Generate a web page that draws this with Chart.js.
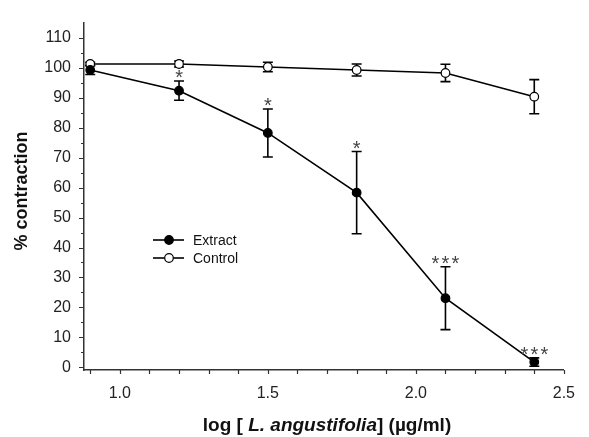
<!DOCTYPE html>
<html>
<head>
<meta charset="utf-8">
<script src="https://cdn.jsdelivr.net/npm/chart.js@4"></script>
<style>
  html, body { margin: 0; padding: 0; background: #fff; }
  #wrap { width: 589px; height: 437px; position: relative; }
</style>
</head>
<body>
<div id="wrap"><canvas id="chart"></canvas></div>
<script>
// data
const logDose = [0.9, 1.2, 1.5, 1.8, 2.1, 2.4];
const extractMean = [99.2, 92.3, 78.2, 58.3, 23.1, 1.8];
const extractErr = [1.5, 3.2, 8.0, 13.7, 10.5, 1.4];
const controlMean = [101.2, 101.2, 100.2, 99.2, 98.2, 90.3];
const controlErr = [0.6, 1.0, 1.6, 2.0, 2.9, 5.7];
const signif = ["", "*", "*", "*", "***", "***"];
const xTickLabels = [1.0, 1.5, 2.0, 2.5];
const yTickLabels = [0, 10, 20, 30, 40, 50, 60, 70, 80, 90, 100, 110];
const seriesNames = ["Extract", "Control"];

const AXIS = "#333";
const FONT = "Arial, 'Liberation Sans', sans-serif";

function toPoints(xs, ys) {
  return xs.map((x, i) => ({ x: x, y: ys[i] }));
}

// error bars, tick marks, stars, legend and titles
const decor = {
  id: "decor",
  beforeDatasetsDraw(chart) {
    const ctx = chart.ctx;
    const xs = chart.scales.x;
    const ys = chart.scales.y;
    const sets = [
      [extractMean, extractErr],
      [controlMean, controlErr],
    ];
    ctx.save();
    ctx.strokeStyle = "#000";
    ctx.lineWidth = 1.6;
    sets.forEach(([mean, err]) => {
      logDose.forEach((d, i) => {
        const px = xs.getPixelForValue(d);
        const top = ys.getPixelForValue(mean[i] + err[i]);
        const bot = ys.getPixelForValue(mean[i] - err[i]);
        ctx.beginPath();
        ctx.moveTo(px, top);
        ctx.lineTo(px, bot);
        ctx.moveTo(px - 5, top);
        ctx.lineTo(px + 5, top);
        ctx.moveTo(px - 5, bot);
        ctx.lineTo(px + 5, bot);
        ctx.stroke();
      });
    });
    ctx.restore();
  },
  afterDraw(chart) {
    const ctx = chart.ctx;
    const xs = chart.scales.x;
    const ys = chart.scales.y;
    const area = chart.chartArea;
    ctx.save();

    // tick marks
    ctx.strokeStyle = AXIS;
    ctx.lineWidth = 1.2;
    ctx.beginPath();
    for (let v = 0; v <= 110; v += 5) {
      const py = Math.round(ys.getPixelForValue(v)) + 0.5;
      const len = v % 10 === 0 ? 5 : 3;
      ctx.moveTo(area.left, py);
      ctx.lineTo(area.left - len, py);
    }
    for (let k = 9; k <= 25; k++) {
      const px = Math.round(xs.getPixelForValue(k / 10)) + 0.5;
      ctx.moveTo(px, area.bottom);
      ctx.lineTo(px, area.bottom + 4);
    }
    ctx.stroke();

    // significance stars, spaced out like the original
    ctx.fillStyle = "#444";
    ctx.font = "20px " + FONT;
    ctx.textAlign = "center";
    ctx.textBaseline = "alphabetic";
    signif.forEach((s, i) => {
      if (!s) return;
      const px = xs.getPixelForValue(logDose[i]);
      const top = ys.getPixelForValue(extractMean[i] + extractErr[i]);
      const n = s.length;
      for (let j = 0; j < n; j++) {
        ctx.fillText("*", px + (j - (n - 1) / 2) * 10, top + 3);
      }
    });

    // legend
    ctx.font = "14px " + FONT;
    ctx.textAlign = "left";
    ctx.textBaseline = "middle";
    seriesNames.forEach((name, i) => {
      const y = 240 + i * 18;
      ctx.strokeStyle = "#000";
      ctx.lineWidth = 1.6;
      ctx.beginPath();
      ctx.moveTo(153, y);
      ctx.lineTo(184, y);
      ctx.stroke();
      ctx.beginPath();
      ctx.arc(169, y, 4.3, 0, Math.PI * 2);
      ctx.fillStyle = i === 0 ? "#000" : "#fff";
      ctx.fill();
      ctx.lineWidth = 1.2;
      ctx.stroke();
      ctx.fillStyle = "#111";
      ctx.fillText(name, 193, y + 1);
    });

    // x title with italic species name
    const parts = [
      ["log [ ", "bold 19px " + FONT],
      ["L. angustifolia", "italic bold 19px " + FONT],
      ["] (µg/ml)", "bold 19px " + FONT],
    ];
    let total = 0;
    parts.forEach((p) => {
      ctx.font = p[1];
      total += ctx.measureText(p[0]).width;
    });
    let tx = 327 - total / 2;
    ctx.fillStyle = "#111";
    ctx.textBaseline = "alphabetic";
    ctx.textAlign = "left";
    parts.forEach((p) => {
      ctx.font = p[1];
      ctx.fillText(p[0], tx, 431);
      tx += ctx.measureText(p[0]).width;
    });

    // y title
    ctx.translate(27, 191);
    ctx.rotate(-Math.PI / 2);
    ctx.font = "bold 18px " + FONT;
    ctx.textAlign = "center";
    ctx.fillText("% contraction", 0, 0);

    ctx.restore();
  },
};

new Chart(document.getElementById("chart"), {
  type: "scatter",
  data: {
    datasets: [
      {
        label: seriesNames[0],
        data: toPoints(logDose, extractMean),
        showLine: true,
        borderColor: "#000",
        borderWidth: 1.6,
        pointRadius: 4.3,
        pointBackgroundColor: "#000",
        pointBorderColor: "#000",
        pointBorderWidth: 1.2,
      },
      {
        label: seriesNames[1],
        data: toPoints(logDose, controlMean),
        showLine: true,
        borderColor: "#000",
        borderWidth: 1.6,
        pointRadius: 4.3,
        pointBackgroundColor: "#fff",
        pointBorderColor: "#000",
        pointBorderWidth: 1.2,
      },
    ],
  },
  options: {
    responsive: true,
    maintainAspectRatio: false,
    devicePixelRatio: 1,
    animation: false,
    layout: { padding: { top: 15, right: 12, left: 0, bottom: 0 } },
    plugins: {
      legend: { display: false },
      tooltip: { enabled: false },
    },
    scales: {
      x: {
        type: "linear",
        min: 0.879,
        max: 2.5,
        afterBuildTicks: (s) => {
          s.ticks = xTickLabels.map((v) => ({ value: v }));
        },
        afterFit: (s) => {
          s.height = 67;
        },
        grid: { display: false, drawTicks: false },
        border: { display: true, color: AXIS, width: 1.5 },
        ticks: {
          padding: 14,
          color: "#222",
          font: { size: 16, family: FONT },
          maxRotation: 0,
          autoSkip: false,
          callback: (v) => Number(v).toFixed(1),
        },
      },
      y: {
        min: -0.85,
        max: 115,
        afterBuildTicks: (s) => {
          s.ticks = yTickLabels.map((v) => ({ value: v }));
        },
        afterFit: (s) => {
          s.width = 84;
        },
        grid: { display: false, drawTicks: false },
        border: { display: true, color: AXIS, width: 1.5 },
        ticks: {
          padding: 13,
          color: "#222",
          font: { size: 16, family: FONT },
          autoSkip: false,
        },
      },
    },
  },
  plugins: [decor],
});
</script>
</body>
</html>
